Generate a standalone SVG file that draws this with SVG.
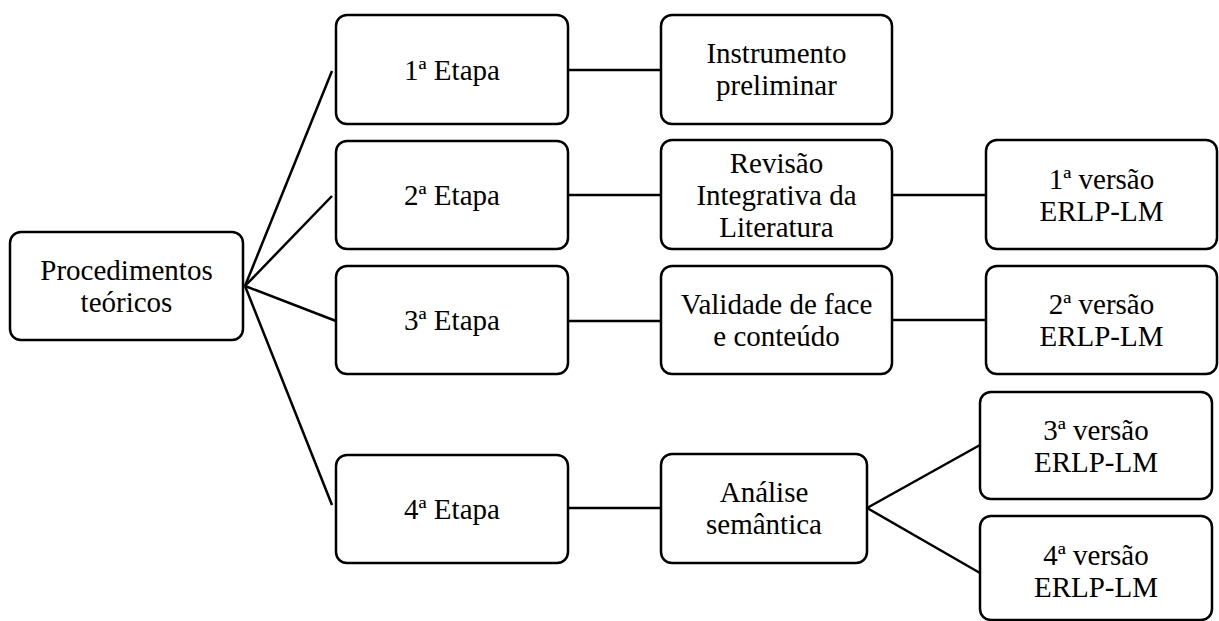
<svg xmlns="http://www.w3.org/2000/svg" width="1219" height="621" viewBox="0 0 1219 621">
<style>
.box{fill:#fff;stroke:#000;stroke-width:2.5}
.lbl{font-family:'Liberation Serif','Times New Roman',Tinos,Times,'DejaVu Serif','Noto Serif',serif;font-size:29px;fill:#000;text-anchor:middle}
.con line{stroke:#000;stroke-width:2.5;fill:none}
</style>
<rect width="1219" height="621" fill="#fff"/>
<g class="con" id="connectors">
<line x1="245" y1="286" x2="332" y2="71"/>
<line x1="245" y1="286" x2="332" y2="196"/>
<line x1="245" y1="286" x2="336" y2="321"/>
<line x1="245" y1="286" x2="332" y2="505"/>
<line x1="568" y1="70" x2="661" y2="70"/>
<line x1="568" y1="195" x2="661" y2="195"/>
<line x1="568" y1="321" x2="661" y2="321"/>
<line x1="568" y1="508" x2="661" y2="508"/>
<line x1="892" y1="195" x2="986" y2="195"/>
<line x1="892" y1="320" x2="986" y2="320"/>
<line x1="867" y1="508" x2="980" y2="445"/>
<line x1="867" y1="508" x2="980" y2="573"/>
</g>
<g id="procedimentos">
<rect class="box" x="10" y="232" width="233" height="108" rx="11"/>
<text class="lbl" font-family="Liberation Serif, serif" x="126.5" y="280">Procedimentos</text>
<text class="lbl" font-family="Liberation Serif, serif" x="126.5" y="312">teóricos</text>
</g>
<g id="etapa1">
<rect class="box" x="336" y="15" width="232" height="109" rx="11"/>
<text class="lbl" x="452" y="80">1ª Etapa</text>
</g>
<g id="etapa2">
<rect class="box" x="336" y="141" width="232" height="108" rx="11"/>
<text class="lbl" x="452" y="205">2ª Etapa</text>
</g>
<g id="etapa3">
<rect class="box" x="336" y="266" width="232" height="108" rx="11"/>
<text class="lbl" x="452" y="330">3ª Etapa</text>
</g>
<g id="etapa4">
<rect class="box" x="336" y="455" width="232" height="108" rx="11"/>
<text class="lbl" x="452" y="519">4ª Etapa</text>
</g>
<g id="instrumento">
<rect class="box" x="661" y="15" width="231" height="109" rx="11"/>
<text class="lbl" x="776.5" y="63">Instrumento</text>
<text class="lbl" x="776.5" y="95">preliminar</text>
</g>
<g id="revisao">
<rect class="box" x="661" y="140" width="231" height="109" rx="11"/>
<text class="lbl" x="776.5" y="173">Revisão</text>
<text class="lbl" x="776.5" y="205">Integrativa da</text>
<text class="lbl" x="776.5" y="237">Literatura</text>
</g>
<g id="validade">
<rect class="box" x="661" y="266" width="231" height="108" rx="11"/>
<text class="lbl" x="776.5" y="314">Validade de face</text>
<text class="lbl" x="776.5" y="346">e conteúdo</text>
</g>
<g id="analise">
<rect class="box" x="661" y="454" width="206" height="109" rx="11"/>
<text class="lbl" x="764" y="502">Análise</text>
<text class="lbl" x="764" y="534">semântica</text>
</g>
<g id="versao1">
<rect class="box" x="986" y="140" width="231" height="109" rx="11"/>
<text class="lbl" x="1101.5" y="189">1ª versão</text>
<text class="lbl" x="1101.5" y="221">ERLP-LM</text>
</g>
<g id="versao2">
<rect class="box" x="986" y="266" width="231" height="108" rx="11"/>
<text class="lbl" x="1101.5" y="314">2ª versão</text>
<text class="lbl" x="1101.5" y="346">ERLP-LM</text>
</g>
<g id="versao3">
<rect class="box" x="980" y="392" width="232" height="107" rx="11"/>
<text class="lbl" x="1096" y="440">3ª versão</text>
<text class="lbl" x="1096" y="472">ERLP-LM</text>
</g>
<g id="versao4">
<rect class="box" x="980" y="516" width="232" height="104" rx="11"/>
<text class="lbl" x="1096" y="565">4ª versão</text>
<text class="lbl" x="1096" y="597">ERLP-LM</text>
</g>
</svg>
